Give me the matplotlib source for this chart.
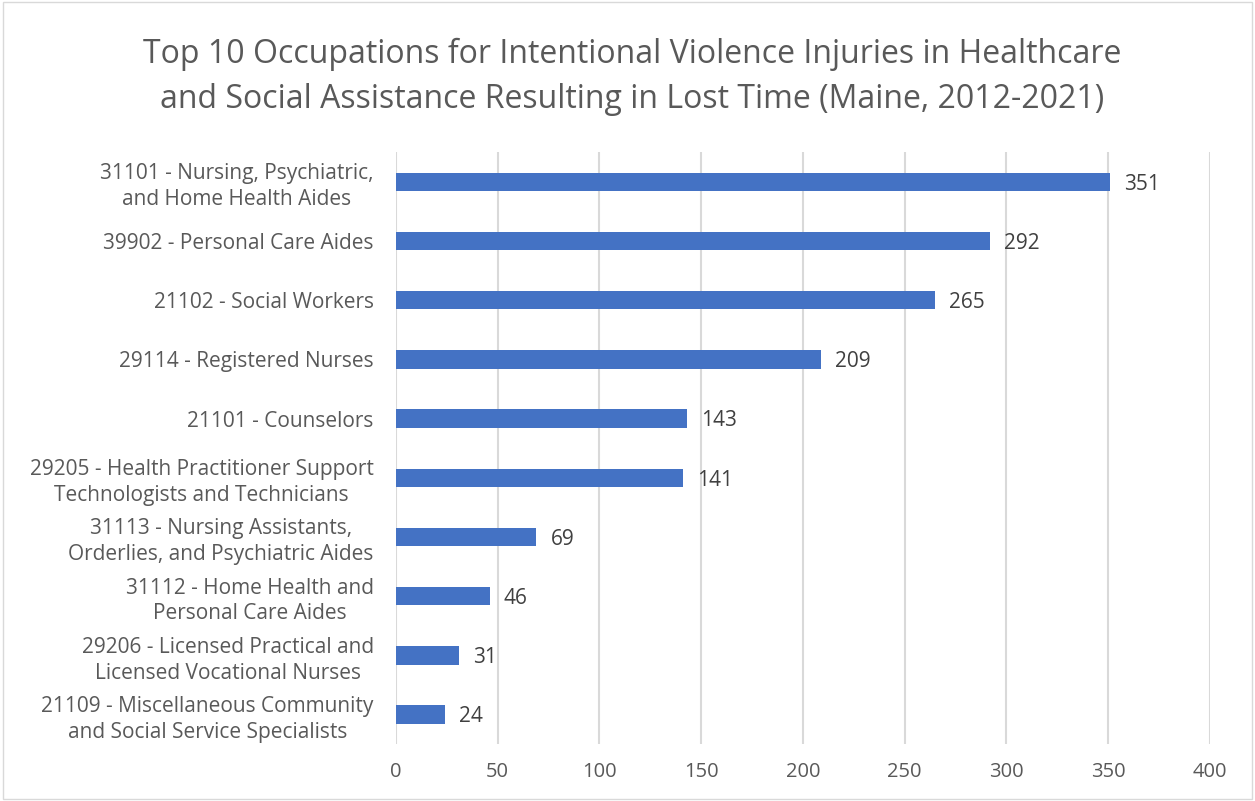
import matplotlib.pyplot as plt
import numpy as np
from matplotlib.patches import Rectangle

# datos del grafico
occupations = [
    "31101 - Nursing, Psychiatric,\nand Home Health Aides",
    "39902 - Personal Care Aides",
    "21102 - Social Workers",
    "29114 - Registered Nurses",
    "21101 - Counselors",
    "29205 - Health Practitioner Support\nTechnologists and Technicians",
    "31113 - Nursing Assistants,\nOrderlies, and Psychiatric Aides",
    "31112 - Home Health and\nPersonal Care Aides",
    "29206 - Licensed Practical and\nLicensed Vocational Nurses",
    "21109 - Miscellaneous Community\nand Social Service Specialists",
]
injuries = [351, 292, 265, 209, 143, 141, 69, 46, 31, 24]
x_ticks = [0, 50, 100, 150, 200, 250, 300, 350, 400]

title = ("Top 10 Occupations for Intentional Violence Injuries in Healthcare\n"
         "and Social Assistance Resulting in Lost Time (Maine, 2012-2021)")

plt.rcParams['font.family'] = ['Open Sans', 'DejaVu Sans']
gray = '#595959'

fig = plt.figure(figsize=(12.55, 8.01), dpi=100)
ax = fig.add_axes([0.3155, 0.071, 0.6485, 0.739])

y = np.arange(len(occupations))
ax.barh(y, injuries, height=0.31, color='#4472C4', zorder=3)
ax.set_yticks(y)
ax.set_yticklabels(occupations, fontsize=15, color=gray,
                   multialignment='center', linespacing=1.3)
ax.set_ylim(len(occupations) - 0.5, -0.5)

ax.set_xlim(0, 400)
ax.set_xticks(x_ticks)
ax.set_xticklabels([str(t) for t in x_ticks], fontsize=14.5, color=gray)
ax.grid(axis='x', color='#D9D9D9', linewidth=1.5, zorder=0)
ax.tick_params(axis='x', length=0, pad=13)
ax.tick_params(axis='y', length=0, pad=16)

for s in ['top', 'right', 'bottom', 'left']:
    ax.spines[s].set_visible(False)

for i, v in enumerate(injuries):
    ax.text(v + 7, i + 0.04, str(v), va='center', ha='left', fontsize=15, color='#404040')

fig.text(0.504, 0.904, title, ha='center', va='center', fontsize=23,
         color=gray, linespacing=1.45)

fig.patches.append(Rectangle((0.002, 0.002), 0.996, 0.996, transform=fig.transFigure,
                             fill=False, edgecolor='#D9D9D9', linewidth=1))

plt.savefig('out.png', dpi=100)
